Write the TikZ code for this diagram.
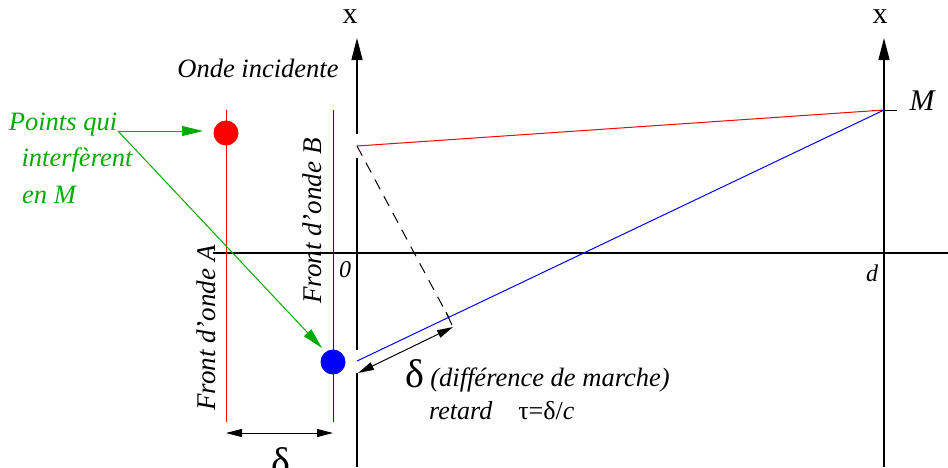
\documentclass[tikz,border=0pt]{standalone}
\usepackage{fontspec}
\setmainfont{Liberation Serif}
\usetikzlibrary{arrows.meta,calc}
\definecolor{vert}{RGB}{0,170,0}
\begin{document}
\begin{tikzpicture}[x=1pt,y=-1pt,
  axis/.style={line width=1.3pt,black},
  axarrow/.style={-{Triangle[length=22pt,width=11pt]}},
  garrow/.style={vert,line width=1pt,-{Triangle[length=21pt,width=10pt]}},
  darrow/.style={black,line width=1pt,{Triangle[length=16pt,width=8pt]}-{Triangle[length=16pt,width=8pt]}},
  ray/.style={line width=1pt},
  dot/.style={circle,inner sep=0pt,minimum size=25pt},
  lbl/.style={inner sep=0pt,font=\fontsize{30}{34}\selectfont},
  ilbl/.style={inner sep=0pt,font=\fontsize{26.5}{30}\selectfont\itshape},
  glbl/.style={inner sep=0pt,text=vert,font=\fontsize{26.5}{30}\selectfont\itshape}]
\useasboundingbox (0,0) rectangle (948,467);
% coordinates
\coordinate (Otop) at (357,38);
\coordinate (Oa) at (357,134);
\coordinate (Ob) at (357,158);
\coordinate (Oc) at (357,350);
\coordinate (Od) at (357,373);
\coordinate (Obot) at (357,467);
\coordinate (Rtop) at (884,38);
\coordinate (Rbot) at (884,467);
\coordinate (Hl) at (213,253);
\coordinate (Hr) at (948,253);
\coordinate (At) at (226,110);
\coordinate (Ab) at (226,422);
\coordinate (Bt) at (333,110);
\coordinate (Bb) at (333,422);
\coordinate (S1) at (357,146);
\coordinate (S2) at (357,361);
\coordinate (M) at (884,110);
\coordinate (Mt1) at (872,110);
\coordinate (Mt2) at (897,110);
\coordinate (H) at (449,318);
\coordinate (Ht1) at (446,312);
\coordinate (Ht2) at (452,325);
\coordinate (Da) at (358,373);
\coordinate (Db) at (453,327);
\coordinate (Ea) at (226,433);
\coordinate (Eb) at (333,433);
\coordinate (G) at (118,131);
\coordinate (Ga) at (203,131);
\coordinate (Gb) at (322,348);
% axes
\draw[axis,axarrow] (Oa) -- (Otop);
\draw[axis] (Ob) -- (Oc);
\draw[axis] (Od) -- (Obot);
\draw[axis,axarrow] (Rbot) -- (Rtop);
\draw[axis] (Hl) -- (Hr);
\draw[line width=1pt] (Mt1) -- (Mt2);
% wave fronts
\draw[red,ray] (At) -- (Ab);
\draw[blue,ray] (Bt) -- (Bb);
\node[dot,fill=red] (PA) at (226,133) {};
\node[dot,fill=blue] (PB) at (333,362) {};
% rays
\draw[red,ray] (S1) -- (M);
\draw[blue,ray] (S2) -- (M);
\draw[ray,dash pattern=on 11pt off 8pt] (S1) -- (H);
\draw[ray] (Ht1) -- (Ht2);
% arrows
\draw[darrow] (Da) -- (Db);
\draw[darrow] (Ea) -- (Eb);
\draw[garrow] (G) -- (Ga);
\draw[garrow] (G) -- (Gb);
% labels
\node[lbl] (x1) at (350,17) {x};
\node[lbl] (x2) at (880,17) {x};
\node[ilbl] (onde) at (258,68) {Onde incidente};
\node[ilbl,font=\fontsize{30}{34}\selectfont\itshape] (lM) at (922,101) {M};
\node[ilbl,font=\fontsize{24}{28}\selectfont\itshape] (l0) at (345,270) {0};
\node[ilbl,font=\fontsize{24}{28}\selectfont\itshape] (ld) at (872,273) {d};
\node[ilbl,rotate=90,font=\fontsize{27}{30}\selectfont\itshape] (fA) at (206,328) {Front d’onde A};
\node[ilbl,rotate=90,font=\fontsize{27}{30}\selectfont\itshape] (fB) at (312,221) {Front d’onde B};
\node[glbl] (g1) at (63,125) {Points qui};
\node[glbl] (g2) at (77,160) {interfèrent};
\node[glbl] (g3) at (49,195) {en M};
\node[lbl,font=\fontsize{40}{44}\selectfont] (dl) at (415,374) {δ};
\node[ilbl,font=\fontsize{26.5}{30}\selectfont\itshape] (dm) at (550,380) {(différence de marche)};
\node[lbl,font=\fontsize{26}{30}\selectfont,anchor=west] (rt) at (429,411) {\itshape retard\quad\upshape τ=δ/\itshape c};
\node[lbl,font=\fontsize{40}{44}\selectfont] (db) at (281,462) {δ};
\end{tikzpicture}
\end{document}
